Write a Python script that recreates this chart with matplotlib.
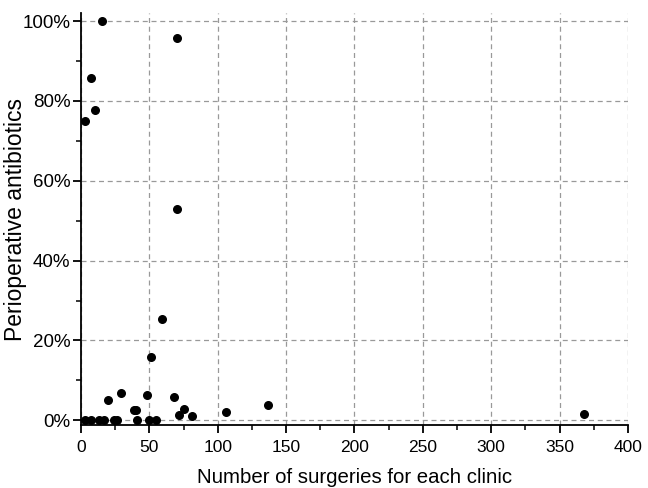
import matplotlib
matplotlib.use("Agg")
import matplotlib.pyplot as plt
from matplotlib.ticker import MultipleLocator, FuncFormatter

plt.rcParams['font.family'] = ['Liberation Sans', 'DejaVu Sans']

surgeries = [15, 70, 7, 10, 3, 70, 59, 51,
             3, 7, 13, 17, 24, 26, 41, 50, 55,
             20, 29, 38.5, 40, 48, 68, 75, 72, 81, 106, 137, 368]
antibiotics = [100, 95.7, 85.7, 77.8, 75, 52.9, 25.3, 15.8,
               0, 0, 0, 0, 0, 0, 0, 0, 0,
               5.0, 6.8, 2.5, 2.5, 6.3, 5.8, 2.7, 1.3, 1.1, 2.0, 3.7, 1.5]

x_label = "Number of surgeries for each clinic"
y_label = "Perioperative antibiotics"

fig = plt.figure(figsize=(6.48, 4.88), dpi=100)
ax = fig.add_axes([0.125, 0.129, 0.844, 0.844])

ax.scatter(surgeries, antibiotics, s=30, color='black', zorder=3, clip_on=False)

ax.set_xlim(0, 400)
ax.set_ylim(-1.2, 102)

ax.xaxis.set_major_locator(MultipleLocator(50))
ax.xaxis.set_minor_locator(MultipleLocator(25))
ax.yaxis.set_major_locator(MultipleLocator(20))
ax.yaxis.set_minor_locator(MultipleLocator(10))
ax.yaxis.set_major_formatter(FuncFormatter(lambda v, p: f"{v:.0f}%"))

ax.grid(True, which='major', linestyle=(0, (4, 3)), color='#999999', linewidth=0.9)
ax.set_axisbelow(True)

for s in ['top', 'right']:
    ax.spines[s].set_visible(False)
for s in ['left', 'bottom']:
    ax.spines[s].set_linewidth(1.3)

ax.tick_params(axis='both', which='major', length=6, width=1.3, direction='out')
ax.tick_params(axis='both', which='minor', length=3.5, width=1.1, direction='out')
ax.tick_params(axis='x', which='major', labelsize=12.5, pad=5)
ax.tick_params(axis='y', which='major', labelsize=13.5, pad=1.5)

ax.set_xlabel(x_label, fontsize=14.7, labelpad=9)
ax.set_ylabel(y_label, fontsize=16.5)
ax.yaxis.set_label_coords(-0.099, 0.5)

fig.savefig("out.png", dpi=100)
